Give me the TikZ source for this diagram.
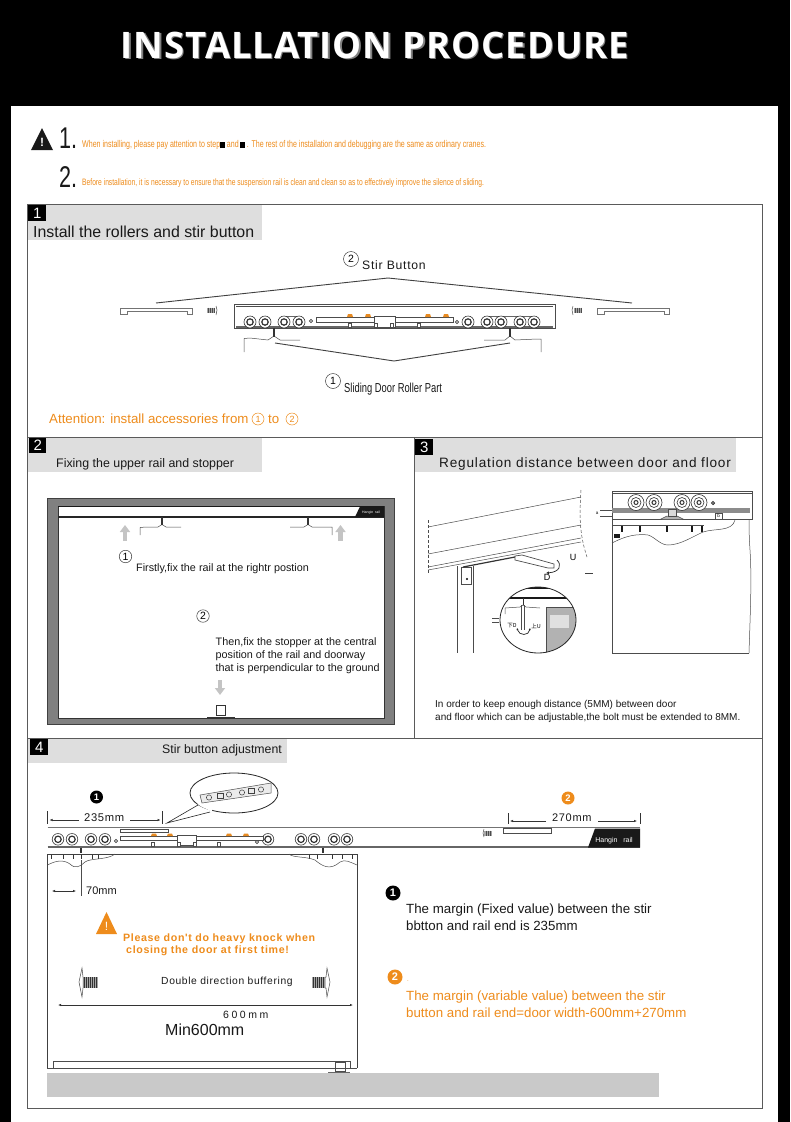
\documentclass[tikz,border=0pt]{standalone}
\usepackage{xcolor}
\usepackage{fontspec}
\usepackage{tikz}
\usetikzlibrary{arrows.meta,calc,shapes.geometric,positioning}
\setmainfont{Liberation Sans}
\newfontfamily\titlefont[LetterSpace=2.5]{Open Sans Bold}
\newfontfamily\narrowfont[FakeStretch=0.72]{Liberation Sans}
\newfontfamily\cjkfont{Noto Sans CJK SC}
\newfontfamily\spacedfont[LetterSpace=6]{Liberation Sans}
\newfontfamily\widefont[LetterSpace=24]{Liberation Sans}
\definecolor{turuncu}{HTML}{EE8C1C}
\definecolor{baslikGri}{HTML}{DEDEDE}
\definecolor{bantGri}{HTML}{C9C9C9}
\definecolor{cerceve}{HTML}{5A5A5A}
\definecolor{okGri}{HTML}{C4C4C4}
\newcommand{\fsz}[1]{\fontsize{#1}{#1}\selectfont}
\newcommand{\tinybox}{\rule[-0.5pt]{5pt}{6pt}}

\begin{document}
\begin{tikzpicture}[x=1pt,y=-1pt,line cap=butt,
  lbl/.style={anchor=west,inner sep=0pt,text=black!90},
  numbox/.style={fill=black,text=white,inner sep=0pt,anchor=north west,minimum width=18pt,minimum height=16pt,font=\fsz{15}},
  cnum/.style={circle,draw=black!75,line width=0.5pt,inner sep=0pt,minimum size=15pt,font=\fsz{10.5}},
  bnum/.style={circle,fill=black,text=white,inner sep=0pt,minimum size=13pt,font=\bfseries\fsz{9.5}},
  onum/.style={circle,fill=turuncu,text=white,inner sep=0pt,minimum size=13pt,font=\bfseries\fsz{9.5}},
  thinline/.style={draw=black!70,line width=0.5pt},
  leader/.style={draw=black!75,line width=0.9pt},
  dimarrow/.style={draw=black!80,line width=0.5pt,{Latex[length=3pt,width=2.4pt]}-{Latex[length=3pt,width=2.4pt]}},
  dimend/.style={draw=black!80,line width=0.5pt,-{Latex[length=3pt,width=2.4pt]}},
  dimtick/.style={draw=black!80,line width=0.8pt},
  grayarrow/.style={draw=okGri,line width=4.5pt,-{Triangle[length=7pt,width=10pt]}}
]
\useasboundingbox (0,0) rectangle (790,1122);
\fill[black] (0,0) rectangle (790,1122);
\fill[white] (11,106) rectangle (778,1122);
% title
\node[inner sep=0pt,text=black!50] (titleShadow) at (376.3,46.3) {\titlefont\fsz{36.5}INSTALLATION PROCEDURE};
\node[inner sep=0pt,text=white] (title) at (375,45) {\titlefont\fsz{36.5}INSTALLATION PROCEDURE};
% notes
\fill[black!90] (42,128) -- (53,150) -- (31,150) -- cycle;
\node[text=white,inner sep=0pt,font=\bfseries\fsz{12}] (warnMark) at (42,142) {!};
\node[lbl,font=\narrowfont\fsz{30}] (noteOne) at (59,138) {1.};
\node[lbl,font=\narrowfont\fsz{30}] (noteTwo) at (59,177) {2.};
\node[lbl,text=turuncu] (noteOneText) at (82,145) {\narrowfont\fsz{9.8}When installing, please pay attention to step{\color{black}\tinybox}\,and\,{\color{black}\tinybox}\,. The rest of the installation and debugging are the same as ordinary cranes.};
\node[lbl,text=turuncu] (noteTwoText) at (82,183.5) {\narrowfont\fsz{9.3}Before installation, it is necessary to ensure that the suspension rail is clean and clean so as to effectively improve the silence of sliding.};
% frame
\fill[baslikGri] (28,205) rectangle (262,240);
\fill[baslikGri] (28,438) rectangle (262,472);
\fill[baslikGri] (415,438) rectangle (736,472);
\fill[baslikGri] (28,739) rectangle (287,763);
\draw[cerceve,line width=1pt] (27.5,204) rectangle (762,1108);
\draw[cerceve,line width=1pt] (27.5,437) -- (762,437) (27.5,738) -- (762,738) (414.5,437) -- (414.5,738);
\node[numbox] (numOne) at (28,205) {1};
\node[numbox,minimum width=17pt,minimum height=15pt] (numTwo) at (29,438) {2};
\node[numbox] (numThree) at (415,439) {3};
\node[numbox] (numFour) at (30,739) {4};
% step 1
\node[lbl,font=\fsz{15.9}] (stepOneTitle) at (33,231.5) {Install the rollers and stir button};
\node[cnum] (circTwo) at (351,259) {2};
\node[lbl] (stirLabel) at (362,265.5) {\spacedfont\fsz{12.2}Stir Button};
\coordinate (stirLeft) at (156,303);
\coordinate (stirApex) at (388,278);
\coordinate (stirRight) at (632,303);
\draw[leader] (stirLeft) -- (stirApex) -- (stirRight);
\draw[black!70,line width=1pt,fill=white] (234,304) rectangle (555,328);
\draw[black!60,line width=2pt] (236,327) -- (553,327);
\draw[black!70,line width=0.5pt] (236,306.5) -- (553,306.5);
\draw[black!60,line width=1pt] (284,316) -- (299,316) (487,316) -- (534,316);
\foreach \rx in {250,265,284,299,468,487,501,520,534}{
  \draw[black!80,fill=white,line width=0.6pt] (\rx,322) circle (6pt);
  \draw[black!80,fill=white,line width=1.2pt] (\rx,322) circle (3.2pt);
}
\draw[black!75,line width=0.7pt,fill=white] (311,321) circle (1.6pt);
\draw[black!75,line width=0.7pt,fill=white] (457,322) circle (1.6pt);
\draw[thinline,fill=white] (316,317) rectangle (453,322);
\draw[thinline,fill=white] (374,316) rectangle (395,327);
\foreach \bx in {350,368,428,446}{
  \fill[turuncu!85!brown] (\bx-3,317) -- (\bx-2,314) -- (\bx+2,314) -- (\bx+3,317) -- cycle;
}
\foreach \sx in {350,376,392,419}{\draw[thinline,fill=white] (\sx-1.5,323) rectangle (\sx+1.5,327);}
\foreach \ex/\ey in {120/192,597/669}{
  \draw[thinline,draw=black!55,fill=white] (\ex,308) -- (\ey,308) -- (\ey,314) -- (\ey-5,314) -- (\ey-5,311) -- (\ex+7,311) -- (\ex+7,314) -- (\ex,314) -- cycle;
}
\fill[black!35] (207,307.5) rectangle (215,313);
\fill[black!35] (574,307.5) rectangle (582,313);
\foreach \sx in {208,210,212,214,575,577,579,581}{\draw[black!70,line width=0.6pt] (\sx,307.5) -- (\sx,313);}
\draw[thinline] (216,306) -- (217,310) -- (216,315);
\draw[thinline] (573,306) -- (572,310) -- (573,315);
\draw[thinline] (244,352) -- (244,338.5) -- (250,338) -- (268,340) -- (274,336) -- (280,340) -- (300,340);
\draw[thinline] (484,340) -- (505,340) -- (510,336) -- (515,340) -- (537,339) -- (541,339) -- (541,352);
\draw[black!80,line width=2pt] (274,328) -- (274,337);
\draw[black!80,line width=2pt] (510,328) -- (510,337);
\coordinate (rollLeft) at (275,343);
\coordinate (rollApex) at (394,361);
\coordinate (rollRight) at (510,343);
\draw[leader] (rollLeft) -- (rollApex) -- (rollRight);
\node[cnum] (circOne) at (333,381) {1};
\node[lbl] (rollLabel) at (344,389) {\narrowfont\fsz{13}Sliding Door Roller Part};
\node[lbl,text=turuncu] (attention) at (49,419) {\fsz{13.3}Attention: install accessories from};
\node[cnum,draw=turuncu,text=turuncu,minimum size=12pt,font=\fsz{9}] (attOne) at (258,419) {1};
\node[lbl,text=turuncu,font=\fsz{13.3}] (attTo) at (268,419) {to};
\node[cnum,draw=turuncu,text=turuncu,minimum size=12pt,font=\fsz{9}] (attTwo) at (292,419) {2};
% step 2
\node[lbl,font=\fsz{12.4}] (stepTwoTitle) at (56,464) {Fixing the upper rail and stopper};
\fill[black!50] (47.5,498) rectangle (394,724);
\draw[black!75,line width=0.6pt] (47.5,498) rectangle (394,724);
\fill[white] (58,506) rectangle (384,718);
\draw[black!80,line width=0.6pt] (58,718) -- (58,506) (384,506) -- (384,718) -- (58,718);
\draw[black!90,line width=1pt] (58,506) -- (384,506);
\draw[black!85,line width=1.2pt] (58,517) -- (384,517);
\fill[black!90] (355,517) -- (360,506.5) -- (384,506.5) -- (384,517) -- cycle;
\node[inner sep=0pt,text=white,font=\fsz{3.5}] (railTagSmall) at (371,513) {Hangin\ \ rail};
\draw[grayarrow] (125,541) -- (125,525);
\draw[grayarrow] (340.5,541) -- (340.5,525);
\draw[thinline] (140,535) -- (140,527.5) -- (146,527) -- (158,527) -- (162,524.5) -- (166,527) -- (181,527);
\draw[thinline] (290,527) -- (304,527) -- (308,524.5) -- (312,527) -- (332,527) -- (332,535);
\draw[black!80,line width=1.4pt] (162,517) -- (162,525);
\draw[black!80,line width=1.4pt] (308,517) -- (308,525);
\node[cnum,minimum size=12.5pt] (fixOne) at (125.5,556.5) {1};
\node[lbl,font=\fsz{10.8}] (fixOneText) at (136,568.5) {Firstly,fix the rail at the rightr postion};
\node[cnum,minimum size=12.5pt] (fixTwo) at (203,616) {2};
\node[lbl,align=left,font={\fontsize{10.8}{13.1}\selectfont}] (fixTwoText) at (215.5,655.5) {Then,fix the stopper at the central\\position of the rail and doorway\\that is perpendicular to the ground};
\draw[grayarrow] (220,680) -- (220,695);
\draw[black!80,line width=0.8pt,fill=white] (216,705.5) rectangle (225.5,715.5);
\draw[black!80,line width=1.6pt] (207,717.3) -- (235,717.3);
% step 3
\node[lbl] (stepThreeTitle) at (439,464) {\spacedfont\fsz{13.6}Regulation distance between door and floor};
\draw[thinline] (428,527) -- (581,497);
\draw[thinline] (428,554) -- (581,525);
\draw[thinline] (428,567) -- (581,538);
\draw[thinline] (428,570) -- (581,542);
\draw[thinline,dash pattern=on 3pt off 2pt] (428,520) -- (428,574);
\draw[thinline,dash pattern=on 3pt off 2pt] (581,490) .. controls (580,510) and (578,530) .. (587,557);
\draw[thinline] (457,566) -- (457,653);
\draw[thinline] (473,566) -- (473,653);
\draw[thinline,fill=white] (461,567) rectangle (471,584);
\fill[black] (467,579) circle (1.2pt);
\draw[black!80,line width=1.2pt] (463,567) -- (515,557);
\draw[thinline,fill=white,line width=0.7pt] (515,556) -- (522,555) -- (554,564) -- (554,568) -- (548,568) -- (515,560) -- cycle;
\draw[black!85,line width=0.7pt,-{Latex[length=3pt,width=3pt]}] (557,560) .. controls (562,565) and (560,572) .. (546,573);
\node[inner sep=0pt,font=\fsz{9}] (markU) at (573,557) {U};
\node[inner sep=0pt,font=\fsz{9}] (markD) at (547,577) {D};
\draw[black!75,line width=1pt] (585,573) -- (593,573);
\begin{scope}
\clip (538,620) ellipse (38pt and 33pt);
\fill[white] (538,620) ellipse (38pt and 33pt);
\draw[black!90,line width=3pt] (500,587.5) -- (580,587.5);
\draw[black!90,line width=1.5pt] (500,598) -- (580,598);
\fill[black!30] (546,607) rectangle (580,660);
\draw[thinline] (546,660) -- (546,607) -- (580,607);
\fill[black!12] (550,615) rectangle (569,628);
\draw[thinline] (505,614) -- (505,608) -- (520,607) -- (523,605) -- (526,607) -- (540,608);
\draw[black!80,line width=1pt] (523,598) -- (523,605);
\draw[thinline] (521.5,605) -- (521.5,630) (524.5,605) -- (524.5,630);
\draw[black!85,line width=0.7pt,{Latex[length=2pt,width=2pt]}-{Latex[length=2pt,width=2pt]}] (517,628) .. controls (519,636) and (529,636) .. (530,628);
\end{scope}
\draw[black!85,line width=0.8pt] (538,620) ellipse (38pt and 33pt);
\node[inner sep=0pt,font=\cjkfont\fsz{5.5}] (markDown) at (512,626) {下D};
\node[inner sep=0pt,font=\cjkfont\fsz{5.5}] (markUp) at (536,626) {上U};
\draw[black!70,line width=0.7pt] (492,618) -- (499,618) (492,622) -- (499,622);
\draw[thinline] (612,491) rectangle (752,519);
\draw[thinline] (612,493) -- (752,493);
\fill[black!45] (612,508) rectangle (750,513);
\foreach \rx in {636,654,682,699}{
  \draw[black!80,fill=white,line width=0.6pt] (\rx,502.5) circle (8pt);
  \draw[black!80,line width=0.6pt] (\rx,502.5) circle (5pt);
  \draw[black!80,line width=1pt] (\rx,502.5) circle (2pt);
}
\draw[black!80,line width=0.9pt] (713,503) circle (1.6pt);
\draw[thinline] (612,519) -- (612,653) -- (749,653);
\draw[thinline] (749,653) .. controls (750,620) and (752,580) .. (750,550) .. controls (749,535) and (749,525) .. (749,519);
\draw[thinline] (612,519) -- (749,519) (612,525) -- (704,525);
\foreach \tx in {622,640,667,692,702}{\draw[black!90,line width=1.6pt] (\tx,526) -- (\tx,532);}
\fill[black!90] (614,534) rectangle (620,538);
\draw[thinline] (612,543) .. controls (620,539) and (632,533) .. (648,535) .. controls (655,537) and (660,545) .. (668,545) .. controls (680,545) and (692,537) .. (703,532) .. controls (715,528) and (732,532) .. (735,520);
\draw[thinline] (715,513) rectangle (722,519);
\node[inner sep=0pt,font=\fsz{4.5}] (markB) at (718.5,516) {b};
\node[inner sep=0pt,font=\fsz{4.5}] (markA) at (597,513) {a};
\draw[thinline] (600,510) -- (612,510) (600,516) -- (612,516);
\draw[thinline,fill=black!30] (660,519.5) -- (667,516) -- (677,516) -- (684,519.5) -- cycle;
\draw[thinline,fill=black!15] (668,509) rectangle (676,516);
\node[lbl,font={\fontsize{10}{13}\selectfont},align=left] (regText) at (435,711.5) {In order to keep enough distance (5MM) between door\\and floor which can be adjustable,the bolt must be extended to 8MM.};
% step 4
\node[lbl,font=\fsz{12.3}] (stepFourTitle) at (162,750) {Stir button adjustment};
\node[bnum] (markOne) at (96.5,797) {1};
\node[onum] (markTwo) at (568,798) {2};
\node[lbl] (dimOne) at (84,818) {\spacedfont\fsz{11.2}235mm};
\node[lbl] (dimTwo) at (552,818) {\spacedfont\fsz{11}270mm};
\coordinate (tickA) at (47.5,818);
\coordinate (tickB) at (162.5,818);
\coordinate (tickC) at (508,818);
\coordinate (tickD) at (640,818);
\draw[dimend] (79,820) -- ($(tickA)+(2,2)$);
\draw[dimend] (130,820) -- ($(tickB)+(-2,2)$);
\draw[dimend] (546,821) -- ($(tickC)+(2,3)$);
\draw[dimend] (598,821) -- ($(tickD)+(-3,3)$);
\foreach \tx in {47.5,162.5}{\draw[dimtick] (\tx,811) -- (\tx,824);}
\foreach \tx in {508,640}{\draw[dimtick] (\tx,813) -- (\tx,824);}
\draw[black!55,line width=1.4pt] (47.5,827.5) -- (640,827.5);
\draw[black!60,line width=1.4pt] (47.5,847) -- (640,847);
\foreach \rx in {58,72,91,105,268,301,314,334,347}{
  \draw[black!80,fill=white,line width=0.6pt] (\rx,839.3) circle (5.8pt);
  \draw[black!80,fill=white,line width=1.2pt] (\rx,839.3) circle (3.2pt);
}
\draw[black!75,line width=0.7pt,fill=white] (116,841) circle (1.6pt);
\draw[black!75,line width=0.7pt,fill=white] (257,842) circle (1.6pt);
\draw[thinline,fill=white] (120,829) rectangle (168,832.5);
\draw[thinline,fill=white] (120,836) rectangle (263,840);
\draw[thinline,fill=white] (177,835) rectangle (196,845);
\foreach \bx in {154,170,229,246}{
  \fill[turuncu!85!brown] (\bx-3,836) -- (\bx-2,833.5) -- (\bx+2,833.5) -- (\bx+3,836) -- cycle;
}
\foreach \sx in {153,179,195,219}{\draw[thinline,fill=white] (\sx-1.5,842) rectangle (\sx+1.5,846);}
\draw[thinline] (503,828) -- (551,828) -- (551,833) -- (503,833) -- cycle;
\fill[black!35] (484,830.5) rectangle (492,835.5);
\foreach \sx in {486,488,490}{\draw[black!70,line width=0.6pt] (\sx,830.5) -- (\sx,835.5);}
\draw[thinline] (484,829) -- (483,833) -- (484,837);
\fill[black!90] (588,847.5) -- (595,828.5) -- (640,828.5) -- (640,847.5) -- cycle;
\node[inner sep=0pt,text=white,font=\fsz{7}] (railTag) at (614,841) {Hangin\ \ \ rail};
% balloon
\node[ellipse,draw=black!85,line width=0.8pt,fill=white,minimum width=88pt,minimum height=40pt,inner sep=0pt] (balloon) at (234,793) {};
\coordinate (balloonTip) at (167,823);
\draw[black!85,line width=0.6pt] (198,805) -- (balloonTip) -- (210,812);
\fill[white] (197,803.5) -- (201,806.5) -- (212,811.5) -- (212,806) -- cycle;
\draw[thinline,fill=black!8] (200,795) -- (271,783) -- (271,793) -- (202,803) -- cycle;
\foreach \ax/\ay in {209/797.5,229/794.5,242/792.5,261/789.5}{\draw[black!75,line width=0.5pt] (\ax,\ay) circle (2.6pt);}
\foreach \ax/\ay in {220/796,251/791}{\draw[black!75,line width=0.5pt] (\ax-3,\ay-2.5) rectangle (\ax+3,\ay+2.5);}
% door
\draw[black!75,line width=0.8pt] (47.5,1068) -- (47.5,854) -- (357,854) -- (357,1068);
\draw[thinline] (81,860) -- (81,896);
\foreach \tx in {51,63,73,81,92,98,309,317,332,342,352}{\draw[black!80,line width=1pt] (\tx,854.5) -- (\tx,859);}
\draw[thinline] (47.5,865) .. controls (55,861) and (63,859) .. (70,864) .. controls (75,869) and (80,867) .. (85,862) .. controls (90,858) and (108,860) .. (115,854);
\draw[thinline] (289,854) .. controls (293,858) and (305,856) .. (315,860) .. controls (322,866) and (330,871) .. (340,862) .. controls (345,859) and (350,862) .. (357,865);
\draw[black!80,line width=2.4pt] (81,847.5) -- (81,853);
\draw[black!80,line width=2.4pt] (323,847.5) -- (323,853);
\draw[dimarrow] (52,891) -- (76,891);
\node[lbl,font=\fsz{11}] (seventy) at (86,891) {70mm};
\fill[turuncu] (106.5,912) -- (117,934) -- (96,934) -- cycle;
\node[text=white,inner sep=0pt,font=\fsz{12}] (warnBang) at (106.5,926) {!};
\node[lbl,text=turuncu,font=\bfseries] (warnTextA) at (123,939) {\spacedfont\bfseries\fsz{10.65}Please don't do heavy knock when};
\node[lbl,text=turuncu,font=\bfseries] (warnTextB) at (126,951) {\spacedfont\bfseries\fsz{10.65}closing the door at first time!};
\node[lbl] (doubleText) at (161,982) {\spacedfont\fsz{10.3}Double direction buffering};
\fill[black!35] (83,977) rectangle (98,988);
\fill[black!35] (312,977) rectangle (325,988);
\foreach \sx in {84,86,88,90,92,94,96,313,315,317,319,321,323}{\draw[black!80,line width=0.7pt] (\sx,977) -- (\sx,988);}
\draw[thinline,fill=white] (82,968) -- (79,982) -- (82,997) -- (83,988) -- (83,977) -- cycle;
\draw[thinline,fill=white] (327,968) -- (330,982) -- (327,997) -- (326,988) -- (325,988) -- (325,977) -- (326,977) -- cycle;
\draw[dimarrow,line width=0.8pt] (58,1005) -- (353,1005);
\node[lbl] (sixHundred) at (223,1014.5) {\widefont\fsz{10.5}600mm};
\node[lbl,font=\fsz{16}] (minText) at (165,1030) {Min600mm};
\draw[thinline] (53,1061) rectangle (350,1068);
\draw[thinline,fill=white] (335,1062) rectangle (345,1071);
\draw[black!60,line width=1pt] (328,1072) -- (350,1072);
\fill[bantGri] (47,1072.5) rectangle (659,1097);
\draw[black!70,line width=0.8pt] (47,1068.5) -- (357,1068.5);
% explanations
\node[bnum,minimum size=15pt,font=\bfseries\fsz{11}] (explainOne) at (393,893) {1};
\node[lbl,font={\fontsize{13.3}{16.7}\selectfont},align=left] (explainOneText) at (406,917.5) {The margin (Fixed value) between the stir\\bbtton and rail end is 235mm};
\node[onum,minimum size=15pt,font=\bfseries\fsz{11}] (explainTwo) at (395,977) {2};
\node[lbl,text=turuncu,font=\fsz{6}] (explainDot) at (407,981) {.};
\node[lbl,text=turuncu,font={\fontsize{13.3}{16.7}\selectfont},align=left] (explainTwoText) at (406,1004.5) {The margin (variable value) between the stir\\button and rail end=door width-600mm+270mm};
\end{tikzpicture}
\end{document}
